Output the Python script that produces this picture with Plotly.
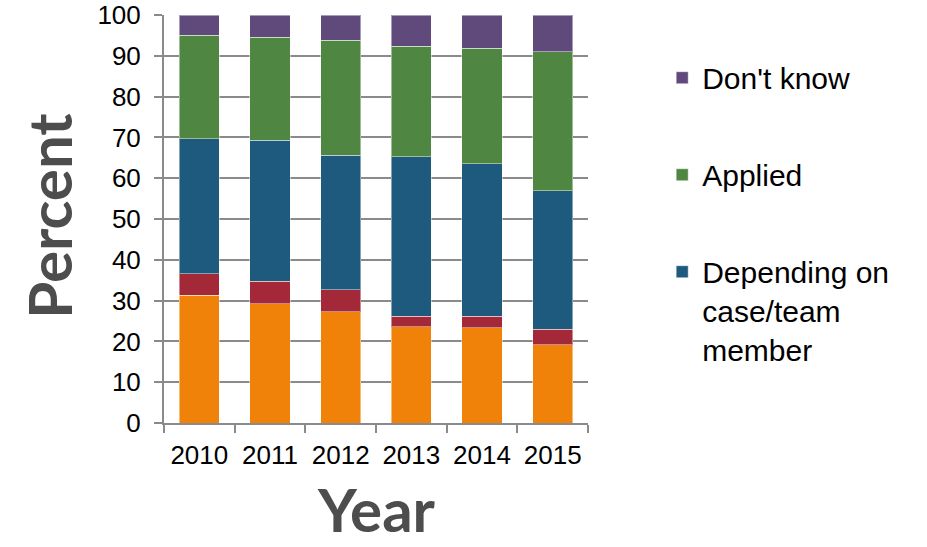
import plotly.graph_objects as go

years = ["2010", "2011", "2012", "2013", "2014", "2015"]

not_applied = [31.3, 29.2, 27.3, 23.6, 23.3, 19.2]
other = [5.3, 5.5, 5.4, 2.6, 2.9, 3.8]
depending = [33.1, 34.6, 32.9, 39.0, 37.3, 33.9]
applied = [25.3, 25.2, 28.2, 27.1, 28.3, 34.1]
dont_know = [5.0, 5.5, 6.2, 7.7, 8.2, 9.0]

# name, values, colour, shown in legend, legend rank
series = [
    ("Not applied", not_applied, "#F0820A", False, 5),
    ("Other", other, "#A32838", False, 4),
    ("Depending on<br>case/team<br>member", depending, "#1E5A7D", True, 3),
    ("Applied", applied, "#4F8742", True, 2),
    ("Don't know", dont_know, "#604A7B", True, 1),
]

fig = go.Figure()
for name, vals, color, show, rank in series:
    fig.add_trace(go.Bar(
        x=years, y=vals, name=name, legendgroup=name, legendrank=rank,
        marker=dict(color=color, line=dict(color="rgba(255,255,255,0.45)", width=1)),
        showlegend=show,
    ))

title_font = dict(family="Lato", size=60, color="#4D4D4D")

fig.update_layout(
    width=927, height=547,
    barmode="stack",
    bargap=0.43,
    plot_bgcolor="white",
    paper_bgcolor="white",
    margin=dict(l=164, r=339, t=15, b=124),
    font=dict(family="Liberation Sans, Arial", size=26, color="black"),
    legend=dict(
        x=1.175, y=0.91, xanchor="left", yanchor="top",
        traceorder="grouped", tracegroupgap=55, valign="top",
        font=dict(size=30, color="black"),
    ),
    showlegend=True,
    annotations=[
        dict(text="<b>Percent</b>", textangle=-90, xref="paper", yref="paper",
             x=-0.272, y=0.507, xanchor="center", yanchor="middle",
             showarrow=False, font=title_font),
        dict(text="<b>Year</b>", xref="paper", yref="paper",
             x=0.5, y=-0.212, xanchor="center", yanchor="middle",
             showarrow=False, font=title_font),
    ],
)

fig.update_yaxes(
    range=[0, 100], dtick=10,
    showgrid=True, gridcolor="#8A8A8A", gridwidth=2,
    showline=True, linecolor="#8A8A8A", linewidth=2,
    ticks="outside", ticklen=8, tickcolor="#8A8A8A", tickwidth=2,
    ticklabelstandoff=8,
    zeroline=False,
    automargin=False,
)
fig.update_xaxes(
    showline=True, linecolor="#8A8A8A", linewidth=2,
    ticks="outside", ticklen=8, tickcolor="#8A8A8A", tickwidth=2,
    tickson="boundaries", ticklabelstandoff=8,
    automargin=False,
)

fig.write_html("out.html", config={"displayModeBar": False},
               post_script="document.body.style.margin='0';")
